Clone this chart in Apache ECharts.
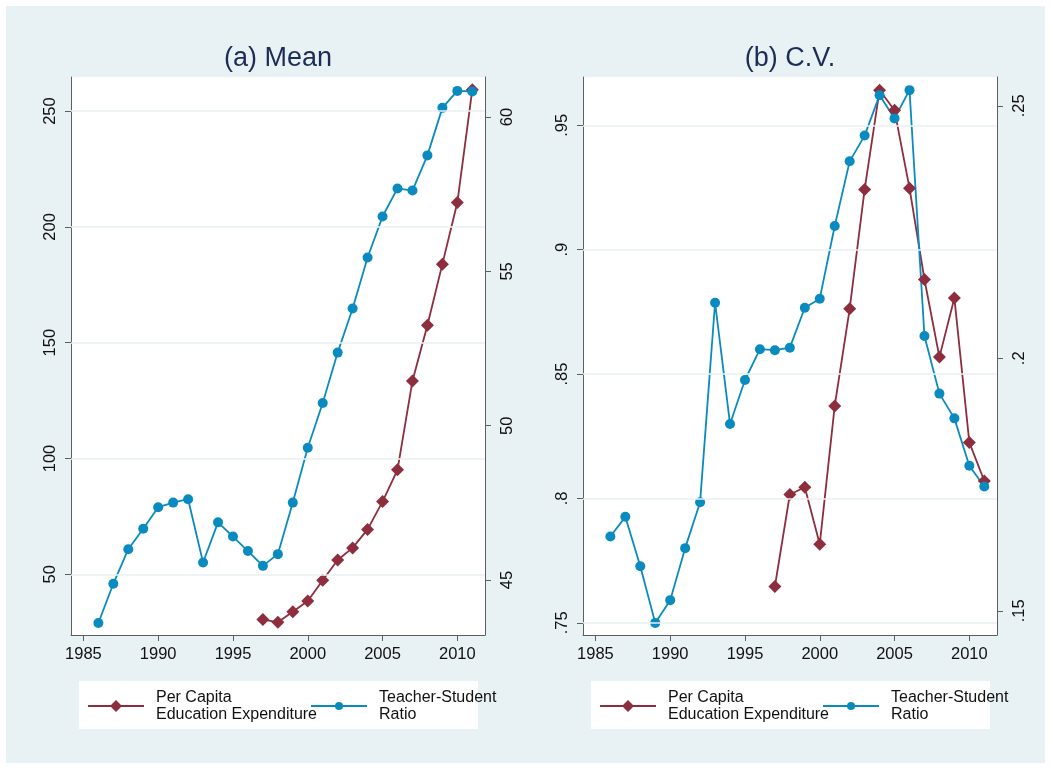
<!DOCTYPE html>
<html><head><meta charset="utf-8">
<script src="https://cdn.jsdelivr.net/npm/echarts@6/dist/echarts.min.js"></script>
<style>html,body{margin:0;padding:0;background:#fff}#c{width:1051px;height:769px}</style>
</head><body><div id="c"></div>
<script>
// ---- data ----
const years = [1986,1987,1988,1989,1990,1991,1992,1993,1994,1995,1996,1997,1998,1999,2000,2001,2002,2003,2004,2005,2006,2007,2008,2009,2010,2011];
const expYears = [1997,1998,1999,2000,2001,2002,2003,2004,2005,2006,2007,2008,2009,2010,2011];
const meanRatio = [43.61,44.88,46.00,46.66,47.36,47.51,47.62,45.57,46.87,46.41,45.94,45.46,45.84,47.51,49.29,50.74,52.37,53.80,55.45,56.78,57.69,57.62,58.76,60.30,60.85,60.83];
const meanExpenditure = [30.5,29.3,33.8,38.5,47.4,56.2,61.4,69.4,81.4,95.1,133.5,157.5,183.9,210.5,259.2];
const cvRatio = [0.1647,0.1686,0.1588,0.1476,0.1521,0.1624,0.1715,0.2110,0.1870,0.1957,0.2018,0.2016,0.2021,0.2100,0.2118,0.2262,0.2390,0.2441,0.2521,0.2475,0.2531,0.2044,0.1930,0.1881,0.1787,0.1746];
const cvExpenditure = [0.7646,0.8016,0.8045,0.7816,0.8372,0.8762,0.9242,0.9641,0.9560,0.9247,0.8880,0.8568,0.8806,0.8225,0.8070];
const yearTicks = [1985,1990,1995,2000,2005,2010];
const meanExpTicks = [50,100,150,200,250];
const meanRatioTicks = [45,50,55,60];
const cvExpTicks = [0.75,0.8,0.85,0.9,0.95];
const cvRatioTicks = [0.15,0.2,0.25];
const titles = ['(a) Mean','(b) C.V.'];
const nameExp = 'Per Capita\nEducation Expenditure';
const nameRatio = 'Teacher-Student\nRatio';

// ---- style ----
const FONT = '"Liberation Sans", Arial, Helvetica, sans-serif';
const RED = '#8e2d3d';
const BLUE = '#0a8bbf';
const GRID = '#e8f0f2';
const AXIS = '#5e5e5e';

function pairs(xs, ys){ return xs.map((x,i)=>[x, ys[i]]); }
function plain(v){ return String(v); }
function dropZero(v){ return String(v).replace(/^0\./,'.'); }

const grids = [
  {left:71, top:77, width:414, height:558, show:true, backgroundColor:'#fff', borderWidth:0},
  {left:583, top:77, width:414, height:558, show:true, backgroundColor:'#fff', borderWidth:0}
];

function xAxis(gi){
  return {type:'value', gridIndex:gi, min:1984.17, max:2011.85,
    axisLine:{show:true, onZero:false, lineStyle:{color:AXIS, width:1}},
    axisTick:{show:true, length:6, customValues:yearTicks, lineStyle:{color:AXIS}},
    axisLabel:{color:'#111', fontSize:16.5, fontFamily:FONT, margin:11, customValues:yearTicks, formatter:plain},
    splitLine:{show:false}};
}
function yAxis(gi, pos, min, max, ticks, fmt, margin){
  return {type:'value', gridIndex:gi, position:pos, min, max,
    axisLine:{show:true, onZero:false, lineStyle:{color:AXIS, width:1}},
    axisTick:{show:true, length:6, customValues:ticks, lineStyle:{color:AXIS}},
    axisLabel:{color:'#111', fontSize:16.5, fontFamily:FONT, rotate:90, margin, customValues:ticks, formatter:fmt},
    splitLine:{show:false}};
}
function gridLines(xi, yi, ticks){
  return {type:'line', xAxisIndex:xi, yAxisIndex:yi, data:[], z:1, silent:true,
    markLine:{silent:true, symbol:['none','none'], label:{show:false}, animation:false,
      lineStyle:{color:GRID, width:1.5, type:'solid'}, emphasis:{disabled:true},
      data:ticks.map(t=>({yAxis:t}))}};
}
function lineSeries(name, xi, yi, xs, ys, color, symbol, size){
  return {type:'line', name, xAxisIndex:xi, yAxisIndex:yi, data:pairs(xs, ys),
    symbol, symbolSize:size, showAllSymbol:true, z:3,
    lineStyle:{color, width:1.8}, itemStyle:{color}, emphasis:{disabled:true}, animation:false};
}
function legend(name, left, h){
  return {show:true, data:[name], left, top:688, orient:'horizontal', padding:0,
    itemWidth:56, itemHeight:h, itemGap:0, selectedMode:false,
    textStyle:{fontSize:16, lineHeight:17, color:'#111', fontFamily:FONT, padding:[2,0,0,7]}};
}

const option = {
  backgroundColor:'#fff',
  animation:false,
  graphic:[
    {type:'rect', z:-100, silent:true, shape:{x:6, y:6, width:1039, height:757}, style:{fill:'#e8f1f3'}},
    {type:'rect', z:-50, silent:true, shape:{x:79, y:681, width:399, height:48}, style:{fill:'#fff'}},
    {type:'rect', z:-50, silent:true, shape:{x:591, y:681, width:399, height:48}, style:{fill:'#fff'}}
  ],
  title:[
    {text:titles[0], left:278, top:45, textAlign:'center', padding:0,
      textStyle:{fontSize:27, fontWeight:'normal', color:'#1c2c55', fontFamily:FONT}},
    {text:titles[1], left:790, top:45, textAlign:'center', padding:0,
      textStyle:{fontSize:27, fontWeight:'normal', color:'#1c2c55', fontFamily:FONT}}
  ],
  grid:grids,
  xAxis:[xAxis(0), xAxis(1)],
  yAxis:[
    yAxis(0,'left',23.8,264.7,meanExpTicks,plain,12),
    yAxis(0,'right',43.22,61.30,meanRatioTicks,plain,14),
    yAxis(1,'left',0.7451,0.9694,cvExpTicks,dropZero,12),
    yAxis(1,'right',0.1452,0.2557,cvRatioTicks,dropZero,14)
  ],
  legend:[legend(nameExp,87,15), legend(nameRatio,310,10), legend(nameExp,599,15), legend(nameRatio,822,10)],
  series:[
    gridLines(0,0,meanExpTicks),
    gridLines(1,2,cvExpTicks),
    lineSeries(nameExp,0,0,expYears,meanExpenditure,RED,'diamond',13),
    lineSeries(nameRatio,0,1,years,meanRatio,BLUE,'circle',10),
    lineSeries(nameExp,1,2,expYears,cvExpenditure,RED,'diamond',13),
    lineSeries(nameRatio,1,3,years,cvRatio,BLUE,'circle',10)
  ]
};
const chart = echarts.init(document.getElementById('c'), null, {renderer:'canvas'});
chart.setOption(option);
</script></body></html>
